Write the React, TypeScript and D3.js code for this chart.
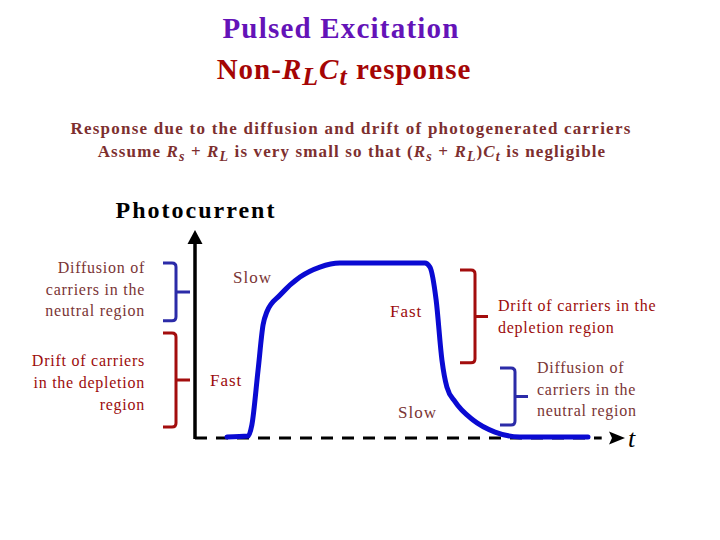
import React from "react";
import * as d3 from "d3";

// Photocurrent pulse response (time in arbitrary units 0..100, current normalised 0..1)
const timeValues = [7.7, 12.8, 13.7, 15.2, 16.4, 17.3, 20.5, 25.3, 30.1, 34.9, 55.4, 56.6, 58.1, 59.5, 60.7, 62.7, 67.0, 72.3, 78.3, 94.7];
const currentValues = [0.006, 0.011, 0.074, 0.389, 0.646, 0.72, 0.817, 0.92, 0.977, 1.0, 1.0, 0.977, 0.789, 0.446, 0.291, 0.206, 0.103, 0.034, 0.006, 0.006];

const speedLabels = ["Slow", "Fast", "Fast", "Slow"];
const leftDiffusionLines = ["Diffusion of", "carriers in the", "neutral region"];
const leftDriftLines = ["Drift of carriers", "in the depletion", "region"];
const rightDriftLines = ["Drift of carriers in the", "depletion region"];
const rightDiffusionLines = ["Diffusion of", "carriers in the", "neutral region"];
// brace current ranges [top, bottom]
const braceRanges = [
  [1.0, 0.67],
  [0.6, 0.063],
  [0.96, 0.43],
  [0.4, 0.074],
];

const W = 720;
const H = 540;
const x = d3.scaleLinear().domain([0, 100]).range([195, 610]);
const y = d3.scaleLinear().domain([0, 1]).range([438, 263]);

const SERIF = "'Liberation Serif', 'Times New Roman', serif";
const DIFF_C = "#7a3535";
const DRIFT_C = "#9c0c0c";
const BLUE_B = "#2b2ba8";
const RED_B = "#a30d0d";

function brace(x0: number, x1: number, x2: number, y0: number, y1: number) {
  const ym = (y0 + y1) / 2;
  const r = 4;
  return `M${x0},${y0} L${x1 - r},${y0} Q${x1},${y0} ${x1},${y0 + r} L${x1},${y1 - r} Q${x1},${y1} ${x1 - r},${y1} L${x0},${y1} M${x1},${ym} L${x2},${ym}`;
}

export default function App() {
  const pts = timeValues.map((t, i) => [t, currentValues[i]] as [number, number]);
  const line = d3
    .line<[number, number]>()
    .x((d) => x(d[0]))
    .y((d) => y(d[1]))
    .curve(d3.curveMonotoneX);

  const braceDefs = [
    { x0: 163, x1: 176, x2: 190, c: BLUE_B },
    { x0: 163, x1: 176, x2: 190, c: RED_B },
    { x0: 460, x1: 475, x2: 488, c: RED_B },
    { x0: 500, x1: 515, x2: 528, c: BLUE_B },
  ];

  const speedPos = [
    { px: 233, py: 283, c: DIFF_C },
    { px: 210, py: 386, c: DRIFT_C },
    { px: 390, py: 317, c: DRIFT_C },
    { px: 398, py: 418, c: DIFF_C },
  ];

  const x0 = x(0);
  const y0 = y(0);
  const LS = 0.75;

  return (
    <div style={{ position: "fixed", left: 0, top: 0 }}>
      <svg width={W} height={H} viewBox={`0 0 ${W} ${H}`} style={{ display: "block", background: "#fff" }} fontFamily={SERIF}>
        {/* Titles */}
        <text x={341} y={38} textAnchor="middle" fontSize={29} fontWeight="bold" fill="#6413b8" letterSpacing={1.2}>
          Pulsed Excitation
        </text>
        <text x={344} y={79} textAnchor="middle" fontSize={29} fontWeight="bold" fill="#a50505" letterSpacing={1}>
          Non-<tspan fontStyle="italic">R</tspan>
          <tspan fontStyle="italic" fontSize={26} dy={6}>L</tspan>
          <tspan fontStyle="italic" dy={-6}>C</tspan>
          <tspan fontStyle="italic" fontSize={26} dy={6}>t</tspan>
          <tspan dy={-6}> response</tspan>
        </text>

        {/* Subtitle */}
        <text x={351} y={134} textAnchor="middle" fontSize={17} fontWeight="bold" fill="#7d2f2f" letterSpacing={1.24}>
          Response due to the diffusion and drift of photogenerated carriers
        </text>
        <text x={352} y={157} textAnchor="middle" fontSize={17} fontWeight="bold" fill="#7d2f2f" letterSpacing={1.12}>
          Assume <tspan fontStyle="italic">R</tspan>
          <tspan fontStyle="italic" fontSize={14} dy={4}>s</tspan>
          <tspan dy={-4}> + </tspan>
          <tspan fontStyle="italic">R</tspan>
          <tspan fontStyle="italic" fontSize={14} dy={4}>L</tspan>
          <tspan dy={-4}> is very small so that (</tspan>
          <tspan fontStyle="italic">R</tspan>
          <tspan fontStyle="italic" fontSize={14} dy={4}>s</tspan>
          <tspan dy={-4}> + </tspan>
          <tspan fontStyle="italic">R</tspan>
          <tspan fontStyle="italic" fontSize={14} dy={4}>L</tspan>
          <tspan dy={-4}>)</tspan>
          <tspan fontStyle="italic">C</tspan>
          <tspan fontStyle="italic" fontSize={14} dy={4}>t</tspan>
          <tspan dy={-4}> is negligible</tspan>
        </text>

        <text x={196} y={218} textAnchor="middle" fontSize={24} fontWeight="bold" fill="#000" letterSpacing={2}>
          Photocurrent
        </text>

        {/* Axes */}
        <line x1={x0} y1={y0 + 1} x2={x0} y2={243} stroke="#000" strokeWidth={3.5} />
        <path d={`M${x0},230 L${x0 + 7.5},244 L${x0 - 7.5},244 Z`} fill="#000" />
        <line x1={x0} y1={y0} x2={x(98)} y2={y0} stroke="#000" strokeWidth={3} strokeDasharray="12,9" />
        <path d={`M${x(100) + 15},${y0} L${x(100) - 1},${y0 - 6.5} L${x(100) + 2},${y0} L${x(100) - 1},${y0 + 6.5} Z`} fill="#000" />
        <text x={628} y={447} fontSize={26} fontStyle="italic" fill="#000">
          t
        </text>

        {/* Curve */}
        <path d={line(pts) || ""} fill="none" stroke="#0a0ad2" strokeWidth={5} strokeLinecap="round" strokeLinejoin="round" />

        {/* Braces */}
        {braceDefs.map((b, i) => (
          <path key={i} d={brace(b.x0, b.x1, b.x2, y(braceRanges[i][0]), y(braceRanges[i][1]))} fill="none" stroke={b.c} strokeWidth={3} />
        ))}

        {/* Speed labels */}
        {speedLabels.map((s, i) => (
          <text key={i} x={speedPos[i].px} y={speedPos[i].py} fontSize={17} fill={speedPos[i].c} letterSpacing={1}>
            {s}
          </text>
        ))}

        {/* Left explanations */}
        <text textAnchor="end" fontSize={16} fill={DIFF_C} letterSpacing={LS}>
          {leftDiffusionLines.map((l, i) => (
            <tspan key={i} x={145} y={273 + i * 21.5}>{l}</tspan>
          ))}
        </text>
        <text textAnchor="end" fontSize={16} fill={DRIFT_C} letterSpacing={LS}>
          {leftDriftLines.map((l, i) => (
            <tspan key={i} x={145} y={366 + i * 22}>{l}</tspan>
          ))}
        </text>

        {/* Right explanations */}
        <text fontSize={16} fill={DRIFT_C} letterSpacing={LS}>
          {rightDriftLines.map((l, i) => (
            <tspan key={i} x={498} y={311 + i * 22}>{l}</tspan>
          ))}
        </text>
        <text fontSize={16} fill={DIFF_C} letterSpacing={LS}>
          {rightDiffusionLines.map((l, i) => (
            <tspan key={i} x={537} y={373 + i * 21.5}>{l}</tspan>
          ))}
        </text>
      </svg>
    </div>
  );
}
